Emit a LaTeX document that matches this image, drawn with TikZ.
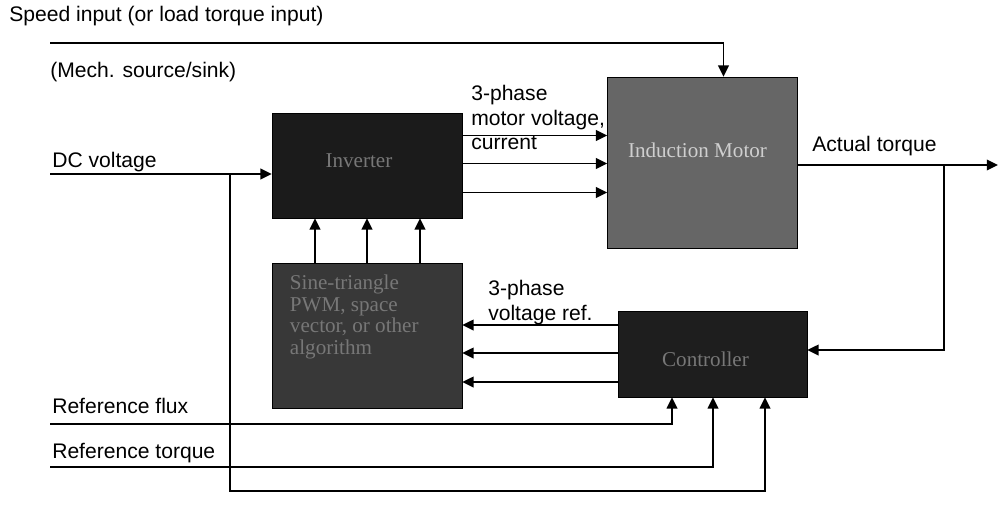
\documentclass[tikz,border=0pt]{standalone}
\usepackage{fontspec}
\setmainfont{Liberation Sans}
\newfontfamily\blockfont{Liberation Serif}
\usetikzlibrary{arrows.meta, positioning, calc}
\definecolor{invfill}{HTML}{1B1B1B}
\definecolor{motfill}{HTML}{666666}
\definecolor{pwmfill}{HTML}{383838}
\definecolor{ctrlfill}{HTML}{1E1E1E}
\definecolor{darktxt}{HTML}{777777}
\definecolor{lighttxt}{HTML}{CFCFCF}
\tikzset{
  blk/.style={draw=black, thin, inner sep=0pt},
  blktxt/.style={inner sep=0pt, font=\blockfont\fontsize{15}{15.4}\selectfont},
  lbl/.style={inner sep=0pt, anchor=base west, font=\fontsize{15}{17.4}\selectfont},
  wire/.style={line width=1.3pt},
  sig/.style={wire, -{Triangle[length=8pt,width=7.5pt]}}
}

\begin{document}
\begin{tikzpicture}[x=0.025cm, y=-0.025cm]
\useasboundingbox (0,0) rectangle (1000,522);
%blocks
\node[blk, fill=invfill, minimum width=4.75cm, minimum height=2.625cm] (inv) at (367,165.5) {};
\node[blk, fill=motfill, minimum width=4.75cm, minimum height=4.275cm] (mot) at (702.5,162.5) {};
\node[blk, fill=pwmfill, minimum width=4.75cm, minimum height=3.625cm] (pwm) at (367,335.5) {};
\node[blk, fill=ctrlfill, minimum width=4.725cm, minimum height=2.15cm] (ctrl) at (712.5,354) {};
%block texts
\node[blktxt, text=darktxt] (invtxt) at ($(inv)+(-8,-5)$) {Inverter};
\node[blktxt, text=lighttxt] (mottxt) at ($(mot)+(-5,-12)$) {Induction Motor};
\node[blktxt, text=darktxt, align=left, anchor=north west] (pwmtxt) at ($(pwm.north west)+(18,12)$) {Sine-triangle\\PWM, space\\vector, or other\\algorithm};
\node[blktxt, text=darktxt] (ctrltxt) at ($(ctrl)+(-7,5)$) {Controller};
%labels
\node[lbl] (spdlbl) at (9,21) {Speed input (or load torque input)};
\node[lbl] (mechlbl) at (50,77) {(Mech. source/sink)};
\node[lbl] (dclbl) at (52,167) {DC voltage};
\node[lbl] (flxlbl) at (52,413) {Reference flux};
\node[lbl] (trqlbl) at (52,458) {Reference torque};
\node[lbl] (outlbl) at (812,151) {Actual torque};
\node[lbl, align=left, anchor=north west] (phlbl) at (471,85) {3-phase\\motor voltage,\\current};
\node[lbl, align=left, anchor=north west] (reflbl) at (488,280) {3-phase\\voltage ref.};
%speed input
\coordinate (spd) at (50,43);
\draw[sig] (spd) -| ($(mot.north)+(21,0)$);
%DC voltage
\coordinate (dc) at (50,174);
\draw[sig] (dc) -- (dc -| inv.west);
\coordinate (dcj) at (230,174);
\coordinate (dcb) at (230,491);
\draw[sig] (dcj) -- (dcb) -| ($(ctrl.south)+(52.5,0)$);
%inverter to motor
\foreach \dy in {-30,-2,27} {
  \coordinate (p) at ($(inv.east)+(0,\dy)$);
  \draw[sig] (p) -- (p -| mot.west);
}
%PWM to inverter
\foreach \dx in {-52,0,53} {
  \coordinate (q) at ($(pwm.north)+(\dx,0)$);
  \draw[sig] (q) -- (q |- inv.south);
}
%controller to PWM
\foreach \dy in {-29,-1,28} {
  \coordinate (r) at ($(ctrl.west)+(0,\dy)$);
  \draw[sig] (r) -- (r -| pwm.east);
}
%references
\coordinate (flx) at (50,424);
\draw[sig] (flx) -| ($(ctrl.south)+(-40.5,0)$);
\coordinate (trq) at (50,467);
\draw[sig] (trq) -| ($(ctrl.south)+(0.5,0)$);
%actual torque and feedback
\coordinate (out) at (998,165);
\draw[sig] (mot.east |- out) -- (out);
\coordinate (fbj) at (944,165);
\draw[sig] (fbj) |- ($(ctrl.east)+(0,-4)$);
\end{tikzpicture}
\end{document}
